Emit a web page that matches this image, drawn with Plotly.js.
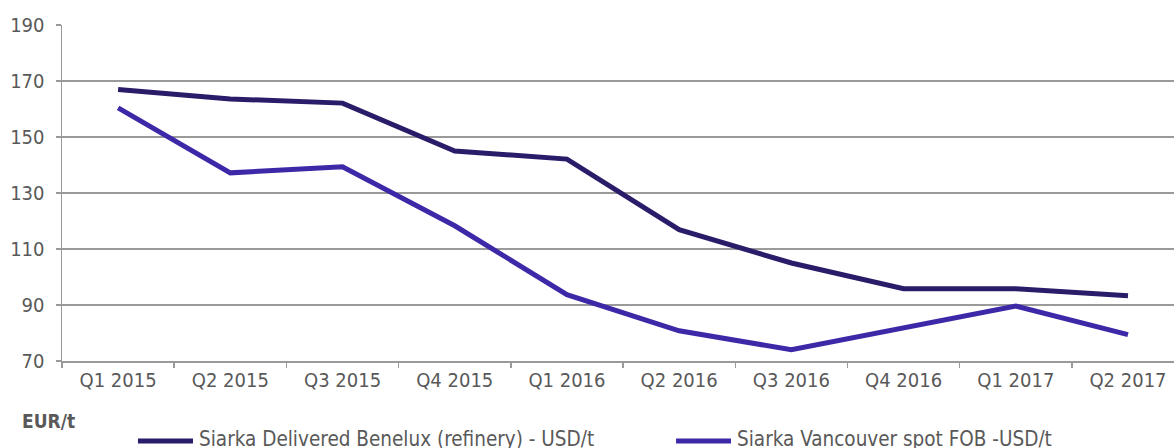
<!DOCTYPE html>
<html>
<head>
<meta charset="utf-8">
<script src="https://cdn.plot.ly/plotly-3.0.1.min.js"></script>
<style>
html,body{margin:0;padding:0;background:#fff;}
#chart{width:1174px;height:448px;}
</style>
</head>
<body>
<div id="chart"></div>
<script>
const categories = ["Q1 2015","Q2 2015","Q3 2015","Q4 2015","Q1 2016","Q2 2016","Q3 2016","Q4 2016","Q1 2017","Q2 2017"];
const beneluxName = "Siarka Delivered Benelux (refinery) - USD/t";
const beneluxValues = [167, 163.6, 162.1, 145, 142.1, 116.9, 105, 95.8, 95.8, 93.3];
const vancouverName = "Siarka Vancouver spot FOB -USD/t";
const vancouverValues = [160.4, 137.2, 139.4, 118.3, 93.7, 80.8, 74, 81.8, 89.6, 79.4];
const yTicks = [70, 90, 110, 130, 150, 170, 190];
const unitLabel = "EUR/t";

const font = "DejaVu Sans Condensed, DejaVu Sans, sans-serif";
const grey = "#595959";
const colors = ["#2a1c68", "#3d28a8"];

const traces = [
  {x: categories, y: beneluxValues, name: beneluxName, type: "scatter", mode: "lines",
   line: {color: colors[0], width: 5}},
  {x: categories, y: vancouverValues, name: vancouverName, type: "scatter", mode: "lines",
   line: {color: colors[1], width: 5}}
];

// manual legend (outside plot, without pushing margins)
const legendItems = [
  {name: beneluxName, color: colors[0], x0: 0.0683, x1: 0.1178, tx: 0.1214},
  {name: vancouverName, color: colors[1], x0: 0.5522, x1: 0.6016, tx: 0.6052}
];
const legendY = -0.238;

const layout = {
  width: 1174, height: 448,
  margin: {l: 62, r: 0, t: 25, b: 87},
  paper_bgcolor: "#fff", plot_bgcolor: "#fff",
  font: {family: font, size: 20, color: grey},
  showlegend: false,
  xaxis: {type: "category", range: [-0.5, 9.41], showgrid: false, showline: true,
          linecolor: "#999", linewidth: 1.5, ticks: "outside", tickson: "boundaries",
          ticklen: 5, tickcolor: "#999", tickwidth: 1.5, zeroline: false,
          tickfont: {family: font, size: 20, color: grey}, fixedrange: true},
  yaxis: {range: [70, 190], tickvals: yTicks, showgrid: true, gridcolor: "#9a9a9a", gridwidth: 1.5,
          showline: true, linecolor: "#999", linewidth: 1.5, ticks: "outside", ticklen: 5,
          tickcolor: "#999", tickwidth: 1.5, zeroline: false, ticklabelstandoff: 7,
          tickfont: {family: font, size: 20, color: grey}, fixedrange: true},
  shapes: legendItems.map(it => ({type: "line", xref: "paper", yref: "paper",
     x0: it.x0, x1: it.x1, y0: legendY, y1: legendY, line: {color: it.color, width: 5}})),
  annotations: [
    {text: "<b>" + unitLabel + "</b>", xref: "paper", yref: "paper", x: -0.0125, y: -0.179,
     xanchor: "center", yanchor: "middle", showarrow: false,
     font: {family: font, size: 19, color: grey}}
  ].concat(legendItems.map(it => ({text: it.name, xref: "paper", yref: "paper",
     x: it.tx, y: legendY + 0.006, xanchor: "left", yanchor: "middle", showarrow: false,
     font: {family: font, size: 20.5, color: grey}})))
};

Plotly.newPlot("chart", traces, layout, {displayModeBar: false, staticPlot: true});
</script>
</body>
</html>
